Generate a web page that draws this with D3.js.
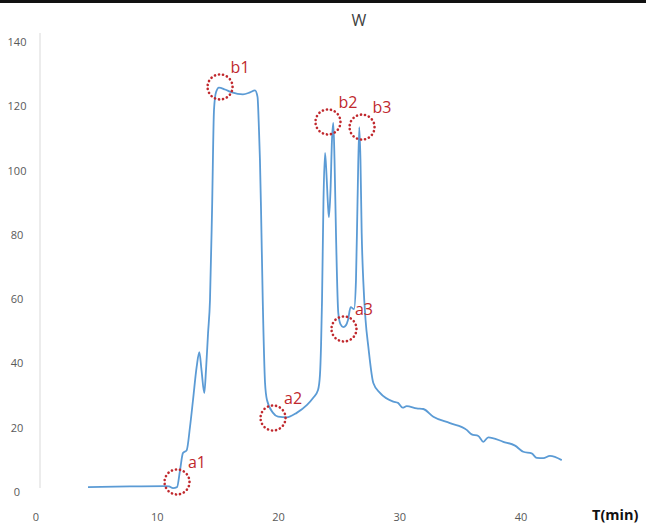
<!DOCTYPE html>
<html>
<head>
<meta charset="utf-8">
<script src="https://cdn.jsdelivr.net/npm/d3@7/dist/d3.min.js"></script>
<style>
  body { margin: 0; background: #fff; }
  svg { display: block; font-family: "Open Sans", "Noto Sans", sans-serif; }
</style>
</head>
<body>
<div class="chart"></div>
<script>
// size of the picture
var width = 646, height = 524;

// the curve W(t), t in minutes
var times = [4.29, 7.75, 10.64, 10.97, 11.30, 11.63, 11.88, 12.12, 12.43, 12.70, 12.95, 13.25, 13.47, 13.65, 13.88, 14.02, 14.19, 14.35, 14.52, 14.68,
  14.85, 15.09, 15.59, 16.16, 17.07, 17.65, 18.06, 18.27, 18.39, 18.47, 18.56, 18.70, 18.89, 19.05, 19.55, 19.96, 20.68, 21.50, 22.33, 22.85,
  23.26, 23.42, 23.51, 23.59, 23.71, 23.84, 23.96, 24.08, 24.16, 24.29, 24.41, 24.52, 24.62, 24.74, 24.93, 25.11, 25.34, 25.57, 25.73, 25.95,
  26.23, 26.39, 26.52, 26.66, 26.76, 26.86, 26.99, 27.18, 27.41, 27.82, 28.37, 29.47, 29.86, 30.24, 30.57, 31.40, 31.94, 32.77, 34.14, 35.52,
  35.93, 36.48, 36.89, 37.30, 38.54, 39.51, 40.19, 40.88, 41.30, 41.84, 42.39, 43.36];
var values = [0.9, 1.1, 1.2, 1.1, 0.6, 0.9, 6.2, 11.5, 12.4, 19.6, 28.0, 38.3, 42.9, 37.3, 30.2, 37.3, 48.8, 59.1, 87.1, 118.2,
  123.8, 125.2, 124.6, 123.7, 123.1, 123.7, 124.3, 122.3, 112.0, 102.7, 87.1, 59.1, 33.3, 28.0, 24.0, 22.8, 22.6, 24.0, 26.4, 28.6,
  31.1, 35.8, 45.1, 59.1, 90.2, 104.9, 98.0, 88.7, 84.9, 93.3, 108.9, 114.2, 102.7, 80.0, 55.1, 51.6, 50.7, 51.3, 52.9, 56.9,
  56.3, 65.3, 90.2, 112.9, 102.7, 80.0, 65.3, 52.9, 44.5, 33.3, 30.2, 27.5, 27.1, 25.6, 26.1, 25.4, 25.2, 22.8, 20.8, 18.7,
  17.3, 16.8, 15.0, 16.4, 15.0, 13.8, 11.9, 11.4, 10.0, 9.9, 10.6, 9.3];

// axis ticks
var xTicks = [0, 10, 20, 30, 40];
var yTicks = [0, 20, 40, 60, 80, 100, 120, 140];

// marked points: circle centre in data units
var markLabels = ["a1", "b1", "b2", "b3", "a3", "a2"];
var markT = [11.63, 15.18, 24.08, 26.89, 25.40, 19.55];
var markW = [2.5, 125.4, 114.5, 112.9, 50.1, 22.4];

var x = d3.scaleLinear().domain([0, 40]).range([36, 521]);
var y = d3.scaleLinear().domain([0, 140]).range([490, 40]);

var svg = d3.select(".chart")
  .append("svg")
    .attr("width", width)
    .attr("height", height);

// dark strip along the top edge
svg.append("rect")
  .attr("x", 0).attr("y", 0)
  .attr("width", width).attr("height", 3)
  .style("fill", "#111");

// title
svg.append("text")
  .attr("x", 359).attr("y", 26)
  .attr("text-anchor", "middle")
  .style("font-size", "16px")
  .style("fill", "#404040")
  .text("W");

// y axis line
svg.append("line")
  .attr("x1", 40).attr("x2", 40)
  .attr("y1", y(140) - 7).attr("y2", y(0) - 2)
  .style("stroke", "#d9d9d9")
  .style("stroke-width", 1);

// y tick labels
svg.selectAll(".ylab")
  .data(yTicks)
  .enter().append("text")
    .attr("class", "ylab")
    .attr("x", 17)
    .attr("y", function(d) { return y(d) + 6; })
    .attr("text-anchor", "middle")
    .style("font-size", "11px")
    .style("fill", "#595959")
    .text(function(d) { return d; });

// x tick labels
svg.selectAll(".xlab")
  .data(xTicks)
  .enter().append("text")
    .attr("class", "xlab")
    .attr("x", function(d) { return x(d); })
    .attr("y", 521)
    .attr("text-anchor", "middle")
    .style("font-size", "11px")
    .style("fill", "#595959")
    .text(function(d) { return d; });

// x axis name in the bottom right corner
svg.append("text")
  .attr("x", 592).attr("y", 520)
  .style("font-size", "14.5px")
  .style("font-weight", "bold")
  .style("fill", "#111")
  .text("T(min)");

// the curve
var line = d3.line()
  .x(function(d) { return x(d[0]); })
  .y(function(d) { return y(d[1]); })
  .curve(d3.curveMonotoneX);

svg.append("path")
  .datum(d3.zip(times, values))
  .attr("d", line)
  .style("fill", "none")
  .style("stroke", "#5b9bd5")
  .style("stroke-width", 1.8);

// dotted circles with their labels
var marks = svg.selectAll(".mark")
  .data(d3.zip(markLabels, markT, markW))
  .enter().append("g")
    .attr("class", "mark")
    .attr("transform", function(d) { return "translate(" + x(d[1]) + "," + y(d[2]) + ")"; });

marks.append("circle")
  .attr("r", 12.5)
  .style("fill", "none")
  .style("stroke", "#c0282d")
  .style("stroke-width", 2.6)
  .style("stroke-linecap", "round")
  .style("stroke-dasharray", "0.1 4");

marks.append("text")
  .attr("x", 20).attr("y", -14)
  .attr("text-anchor", "middle")
  .style("font-size", "16px")
  .style("fill", "#c0282d")
  .text(function(d) { return d[0]; });
</script>
</body>
</html>
